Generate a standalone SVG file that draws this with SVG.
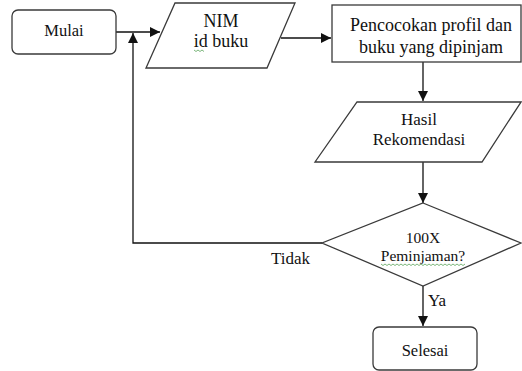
<svg xmlns="http://www.w3.org/2000/svg" width="522" height="371" viewBox="0 0 522 371">
<defs>
<style>
.shape{fill:#fff;stroke:#3a3a3a;stroke-width:1.3}
text{font-family:'Liberation Serif','DejaVu Serif',serif;fill:#111}
.t{font-size:16.5px;text-anchor:middle}
.b{font-size:18px}
.m{font-size:17px}
.s{font-size:15.5px}
.l{font-size:17px}
.c{fill:none;stroke:#111;stroke-width:1.3}
.sq{fill:none;stroke:#5aa55a;stroke-width:0.8}
</style>
<marker id="arr" viewBox="0 0 10 10" refX="10" refY="5" markerWidth="10" markerHeight="10" markerUnits="userSpaceOnUse" orient="auto">
<path d="M0,0 L10,5 L0,10 z" fill="#111"/>
</marker>
</defs>
<rect width="522" height="371" fill="#fff"/>
<g id="connectors">
<line class="c" x1="116" y1="32" x2="160" y2="32" marker-end="url(#arr)"/>
<line class="c" x1="281" y1="38" x2="331" y2="38" marker-end="url(#arr)"/>
<line class="c" x1="423" y1="62" x2="423" y2="101" marker-end="url(#arr)"/>
<line class="c" x1="423" y1="162" x2="423" y2="203" marker-end="url(#arr)"/>
<line class="c" x1="423" y1="286" x2="423" y2="326" marker-end="url(#arr)"/>
<polyline class="c" points="322,243 133,243 133,33" marker-end="url(#arr)"/>
<text class="l" x="271" y="264">Tidak</text>
<text class="l" x="428" y="306">Ya</text>
</g>
<g id="mulai">
<rect class="shape" x="12" y="10" width="104" height="44" rx="6"/>
<text class="t" x="64" y="36">Mulai</text>
</g>
<g id="input">
<polygon class="shape" points="175,3 295,3 267,68 146,68"/>
<text class="t b" x="221" y="27">NIM</text>
<text class="t b" x="221" y="47">id buku</text>
<path class="sq" d="M194,50 l2,1.5 l2,-1.5 l2,1.5 l2,-1.5 l2,1.5"/>
</g>
<g id="pencocokan">
<rect class="shape" x="332" y="5" width="189" height="57"/>
<text class="t b" x="431" y="31">Pencocokan profil dan</text>
<text class="t b" x="431" y="53">buku yang dipinjam</text>
</g>
<g id="hasil">
<polygon class="shape" points="357,102 521,102 482,162 315,162"/>
<text class="t m" x="419" y="125">Hasil</text>
<text class="t m" x="419" y="145">Rekomendasi</text>
</g>
<g id="keputusan">
<polygon class="shape" points="423,203 521,243 423,286 322,243"/>
<text class="t s" x="423" y="243">100X</text>
<text class="t s" x="423" y="261">Peminjaman?</text>
<path class="sq" d="M381,264 l2,1.5 l2,-1.5 l2,1.5 l2,-1.5 l2,1.5 l2,-1.5 l2,1.5 l2,-1.5 l2,1.5 l2,-1.5 l2,1.5 l2,-1.5 l2,1.5 l2,-1.5 l2,1.5 l2,-1.5 l2,1.5 l2,-1.5 l2,1.5 l2,-1.5 l2,1.5 l2,-1.5 l2,1.5 l2,-1.5 l2,1.5 l2,-1.5 l2,1.5 l2,-1.5 l2,1.5 l2,-1.5 l2,1.5 l2,-1.5 l2,1.5 l2,-1.5 l2,1.5 l2,-1.5 l2,1.5 l2,-1.5 l2,1.5 l2,-1.5 l2,1.5 l2,-1.5"/>
</g>
<g id="selesai">
<rect class="shape" x="373" y="327" width="104" height="43" rx="6"/>
<text class="t" x="425" y="356">Selesai</text>
</g>
</svg>
